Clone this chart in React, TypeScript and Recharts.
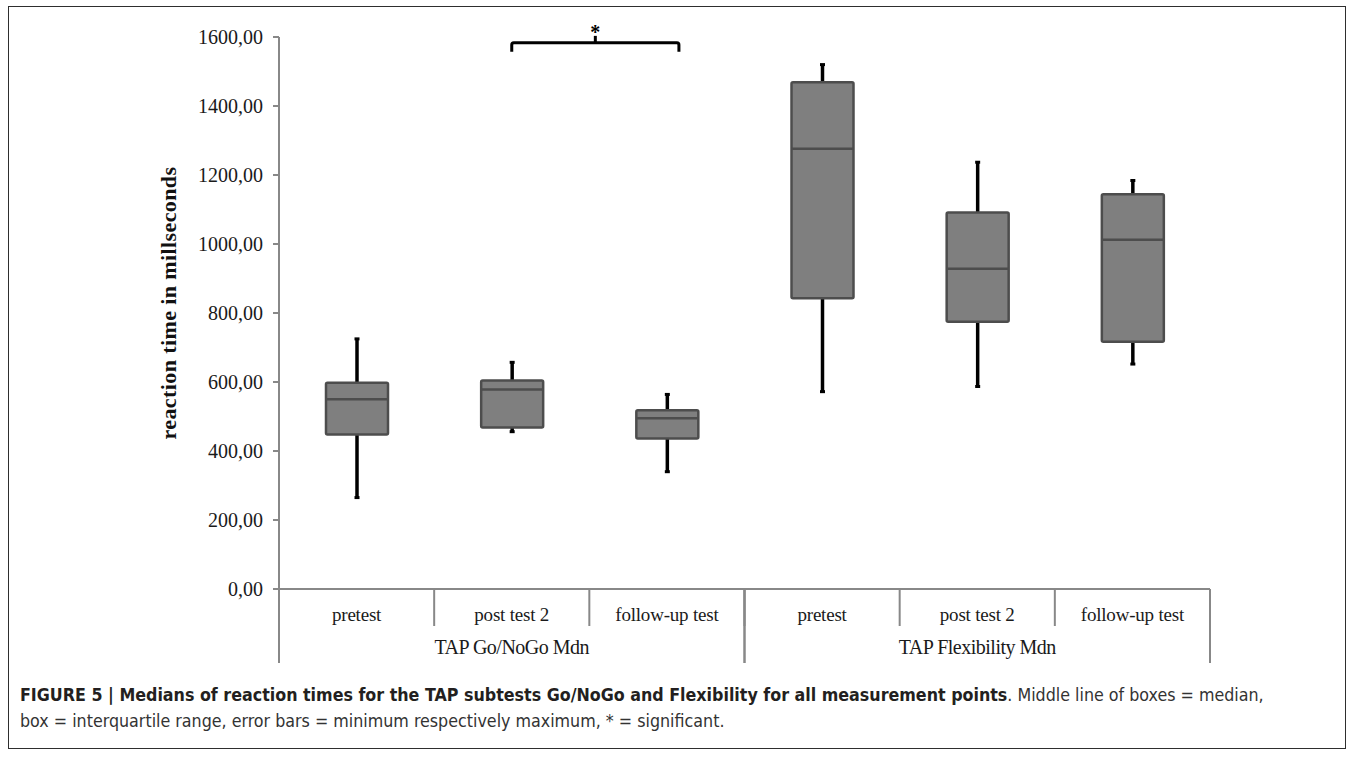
import { Bar, ComposedChart, ReferenceLine, XAxis, YAxis } from "recharts";

const categories = ["pretest", "post test 2", "follow-up test", "pretest", "post test 2", "follow-up test"];
const categoryKeys = ["gng-pre", "gng-post2", "gng-follow", "flex-pre", "flex-post2", "flex-follow"];
const groups = [
  "TAP Go/NoGo Mdn",
  "TAP Go/NoGo Mdn",
  "TAP Go/NoGo Mdn",
  "TAP Flexibility Mdn",
  "TAP Flexibility Mdn",
  "TAP Flexibility Mdn",
];
const minValues = [265, 456, 340, 572, 587, 652];
const q1Values = [448, 468, 436, 843, 775, 717];
const medianValues = [550, 578, 495, 1276, 928, 1012];
const q3Values = [598, 604, 518, 1469, 1091, 1144];
const maxValues = [725, 657, 564, 1520, 1237, 1184];
const yTicks = [0, 200, 400, 600, 800, 1000, 1200, 1400, 1600];

// significance bracket between post test 2 and follow-up test (Go/NoGo)
const sigFrom = "gng-post2";
const sigTo = "gng-follow";
const sigLevel = 1583;

const data = categoryKeys.map((key, i) => ({
  key,
  label: categories[i],
  group: groups[i],
  min: minValues[i],
  q1: q1Values[i],
  median: medianValues[i],
  q3: q3Values[i],
  max: maxValues[i],
}));

const CHART_W = 1336;
const CHART_H = 662;
const MARGIN = { top: 30, right: 135, bottom: 6, left: 140 };
const PLOT_W = CHART_W - MARGIN.left - MARGIN.right - 130;
const AXIS_GREY = "#888888";
const SERIF = '"Liberation Serif", "Times New Roman", serif';

function BoxShape(props: any) {
  const { x, y, width, height, payload } = props;
  if (!payload) return null;
  const top = Math.min(y, y + height);
  const h = Math.abs(height);
  const span = payload.max - payload.min;
  const yOf = (v: number) => top + ((payload.max - v) / span) * h;
  const cx = x + width / 2;
  const cap = 2.5;
  return (
    <g>
      <line x1={cx} x2={cx} y1={yOf(payload.max)} y2={yOf(payload.q3)} stroke="#000" strokeWidth={3.5} />
      <line x1={cx} x2={cx} y1={yOf(payload.q1)} y2={yOf(payload.min)} stroke="#000" strokeWidth={3.5} />
      <line x1={cx - cap} x2={cx + cap} y1={yOf(payload.max)} y2={yOf(payload.max)} stroke="#000" strokeWidth={3} />
      <line x1={cx - cap} x2={cx + cap} y1={yOf(payload.min)} y2={yOf(payload.min)} stroke="#000" strokeWidth={3} />
      <rect
        x={x}
        y={yOf(payload.q3)}
        width={width}
        height={yOf(payload.q1) - yOf(payload.q3)}
        fill="#7f7f7f"
        stroke="#4d4d4d"
        strokeWidth={2.5}
        rx={1.5}
      />
      <line x1={x} x2={x + width} y1={yOf(payload.median)} y2={yOf(payload.median)} stroke="#4d4d4d" strokeWidth={2.5} />
    </g>
  );
}

function CategoryTick(props: any) {
  const { x, y, payload } = props;
  const off = payload.offset ?? PLOT_W / categories.length / 2;
  return (
    <g>
      <line x1={x - off} x2={x - off} y1={y} y2={y + 37} stroke={AXIS_GREY} strokeWidth={2} />
      <text x={x} y={y + 32} textAnchor="middle" fontFamily={SERIF} fontSize={19} fill="#1a1a1a" letterSpacing={-0.2}>
        {categories[payload.index] ?? ""}
      </text>
    </g>
  );
}

function GroupTick(props: any) {
  const { x, y, payload } = props;
  const off = payload.offset ?? PLOT_W / 4;
  return (
    <g>
      <line x1={x - off} x2={x - off} y1={y - 37} y2={y + 37} stroke={AXIS_GREY} strokeWidth={2} />
      <line x1={x + off} x2={x + off} y1={y - 37} y2={y + 37} stroke={AXIS_GREY} strokeWidth={2} />
      <text x={x} y={y + 28} textAnchor="middle" fontFamily={SERIF} fontSize={20} fill="#1a1a1a" letterSpacing={-0.5}>
        {payload.value}
      </text>
    </g>
  );
}

function Bracket(props: any) {
  const { x1, y1, x2 } = props;
  if (x1 == null) return null;
  const right = x2 + 12;
  const mid = (x1 + right) / 2;
  return (
    <g>
      <path
        d={`M${x1},${y1 + 9} L${x1},${y1 + 2} Q${x1},${y1} ${x1 + 2},${y1} L${right - 2},${y1} Q${right},${y1} ${right},${y1 + 2} L${right},${y1 + 9}`}
        fill="none"
        stroke="#000"
        strokeWidth={3}
      />
      <line x1={mid} x2={mid} y1={y1} y2={y1 - 7} stroke="#000" strokeWidth={3} />
      <text x={mid} y={y1 - 4} textAnchor="middle" fontFamily={SERIF} fontWeight="bold" fontSize={20} fill="#000">
        *
      </text>
    </g>
  );
}

function YLabel(props: any) {
  const { viewBox } = props;
  const cx = viewBox.x + 19;
  const cy = viewBox.y + viewBox.height / 2 - 10;
  return (
    <text
      x={cx}
      y={cy}
      transform={`rotate(-90 ${cx} ${cy})`}
      textAnchor="middle"
      dominantBaseline="central"
      fontFamily={SERIF}
      fontWeight="bold"
      fontSize={22}
      letterSpacing={0.4}
      fill="#111"
    >
      reaction time in millseconds
    </text>
  );
}

export default function App() {
  return (
    <div
      style={{
        position: "absolute",
        left: 8,
        top: 6,
        width: 1338,
        boxSizing: "border-box",
        border: "1px solid #2e2e2e",
        background: "#fff",
      }}
    >
      <ComposedChart width={CHART_W} height={CHART_H} data={data} margin={MARGIN}>
        <YAxis
          domain={[0, 1600]}
          ticks={yTicks}
          width={130}
          interval={0}
          tickFormatter={(v: number) => v.toFixed(2).replace(".", ",")}
          tick={{ fontFamily: SERIF, fontSize: 20, fill: "#1a1a1a" }}
          tickSize={6}
          tickMargin={10}
          tickLine={{ stroke: AXIS_GREY, strokeWidth: 2 }}
          axisLine={{ stroke: AXIS_GREY, strokeWidth: 2 }}
          label={<YLabel />}
        />
        <XAxis
          dataKey="key"
          height={37}
          interval={0}
          tickSize={0}
          tickMargin={0}
          tickLine={false}
          axisLine={{ stroke: AXIS_GREY, strokeWidth: 2 }}
          tick={<CategoryTick />}
        />
        <XAxis
          xAxisId="grp"
          dataKey="group"
          allowDuplicatedCategory={false}
          height={37}
          interval={0}
          tickSize={0}
          tickMargin={0}
          tickLine={false}
          axisLine={false}
          tick={<GroupTick />}
        />
        <Bar
          dataKey={(d: any) => [d.min, d.max]}
          barSize={62}
          shape={<BoxShape />}
          isAnimationActive={false}
        />
        <ReferenceLine
          segment={[
            { x: sigFrom, y: sigLevel },
            { x: sigTo, y: sigLevel },
          ]}
          ifOverflow="visible"
          shape={(p: any) => <Bracket {...p} />}
        />
      </ComposedChart>
      <div
        style={{
          padding: "13px 11px 14px 11px",
          fontFamily: '"Liberation Sans Narrow", "Arial Narrow", "DejaVu Sans Condensed", sans-serif',
          fontSize: 17.7,
          lineHeight: "26px",
          color: "#333",
        }}
      >
        <span style={{ fontWeight: "bold", color: "#231f20" }}>
          FIGURE 5 | Medians of reaction times for the TAP subtests Go/NoGo and Flexibility for all measurement points
        </span>
        . Middle line of boxes = median,
        <br />
        box = interquartile range, error bars = minimum respectively maximum, * = significant.
      </div>
    </div>
  );
}
